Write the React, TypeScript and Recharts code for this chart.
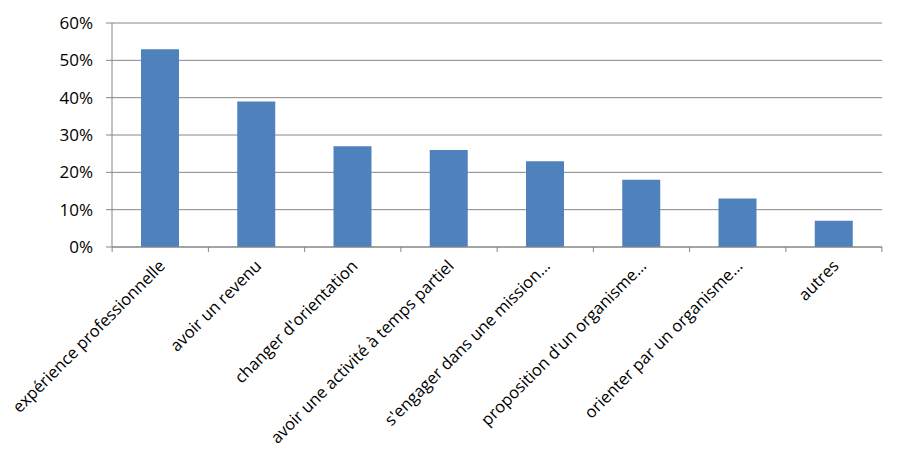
import { Bar, BarChart, CartesianGrid, XAxis, YAxis } from "recharts";

const categories = [
  "expérience professionnelle",
  "avoir un revenu",
  "changer d'orientation",
  "avoir une activité à temps partiel",
  "s'engager dans une mission…",
  "proposition d'un organisme…",
  "orienter par un organisme…",
  "autres",
];
const values = [0.53, 0.39, 0.27, 0.26, 0.23, 0.18, 0.13, 0.07];
const yTicks = [0, 0.1, 0.2, 0.3, 0.4, 0.5, 0.6];

const data = categories.map((name, i) => ({ name, value: values[i] }));

const FONT = "'Open Sans', sans-serif";
const GRID = "#868686";

function CategoryTick(props: any) {
  const { x, y, payload, index } = props;
  const half = 48;
  return (
    <g>
      <line x1={x - half} x2={x - half} y1={y - 8} y2={y - 3} stroke={GRID} />
      {index === categories.length - 1 && (
        <line x1={x + half} x2={x + half} y1={y - 8} y2={y - 3} stroke={GRID} />
      )}
      <text
        x={x + 6}
        y={y + 12}
        transform={`rotate(-45, ${x + 6}, ${y + 12})`}
        textAnchor="end"
        fill="#000"
        fontSize={16.5}
        fontFamily={FONT}
      >
        {payload.value}
      </text>
    </g>
  );
}

export default function App() {
  return (
    <div style={{ position: "absolute", left: 0, top: 0, background: "#fff" }}>
      <BarChart
        width={904}
        height={466}
        data={data}
        margin={{ top: 23, right: 22, bottom: 0, left: 0 }}
        barSize={38}
      >
        <CartesianGrid stroke={GRID} vertical={false} />
        <XAxis
          dataKey="name"
          interval={0}
          height={219}
          axisLine={{ stroke: GRID }}
          tickLine={false}
          tick={<CategoryTick />}
        />
        <YAxis
          width={112}
          domain={[0, 0.6]}
          ticks={yTicks}
          interval={0}
          axisLine={{ stroke: GRID }}
          tickLine={{ stroke: GRID }}
          tickSize={6}
          tickMargin={13}
          tickFormatter={(v: number) => `${Math.round(v * 100)}%`}
          tick={{ fill: "#000", fontSize: 17, fontFamily: FONT }}
        />
        <Bar dataKey="value" fill="#4F81BD" isAnimationActive={false} />
      </BarChart>
    </div>
  );
}
